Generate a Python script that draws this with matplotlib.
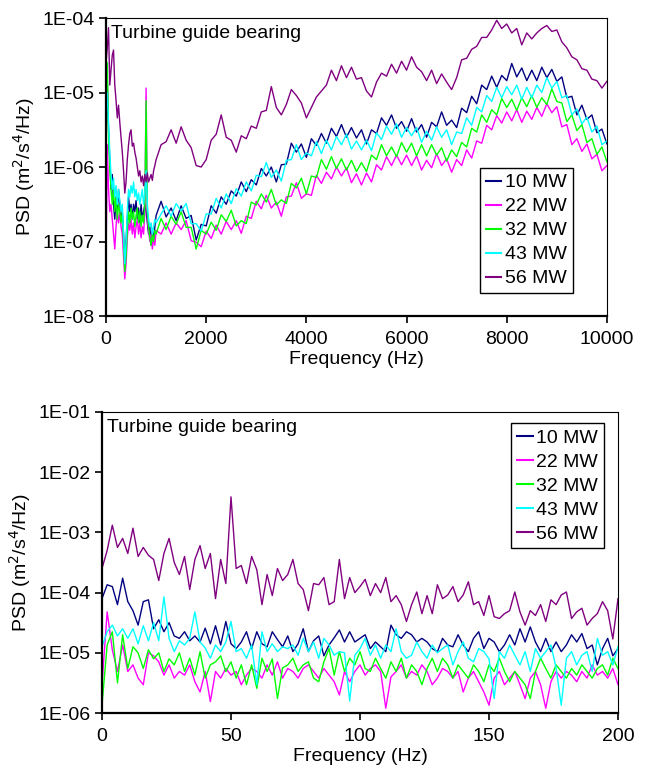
import numpy as np
import matplotlib
matplotlib.use("Agg")
import matplotlib.pyplot as plt
from matplotlib.ticker import FixedLocator, FuncFormatter, NullLocator

plt.rcParams["font.family"] = ["Liberation Sans", "DejaVu Sans"]

# ---------------- data (log10 of PSD) ----------------
labels = ["10 MW", "22 MW", "32 MW", "43 MW", "56 MW"]
colors = ["#000080", "#FF00FF", "#00FF00", "#00FFFF", "#800080"]

# top chart: 0-1000 Hz every 25 Hz, then 1100-10000 Hz every 100 Hz
freq_top = np.concatenate([np.arange(0, 1001, 25), np.arange(1100, 10001, 100)])

top_10mw = [
    -5.6, -4.8, -5.5, -5.9, -6.3, -6.1, -6.5, -6.7, -6.4, -6.6,
    -6.3, -6.5, -6.7, -6.6, -6.9, -7.3, -7.0, -6.7, -6.4, -6.6,
    -6.5, -6.7, -6.5, -6.6, -6.45, -6.7, -6.55, -6.75, -6.5, -6.7,
    -6.6, -6.5, -6.6, -6.75, -6.9, -6.8, -7.05, -6.85, -7.0, -6.8,
    -6.65,
    -6.46, -6.67, -6.55, -6.72, -6.52, -6.69, -6.65, -6.98, -6.77, -6.79,
    -6.52, -6.62, -6.4, -6.5, -6.32, -6.39, -6.2, -6.33, -6.17, -6.24,
    -6.02, -6.12, -6.0, -6.2, -5.97, -5.96, -5.68, -5.8, -5.69, -5.87,
    -5.62, -5.71, -5.55, -5.68, -5.48, -5.59, -5.43, -5.6, -5.47, -5.61,
    -5.5, -5.69, -5.5, -5.55, -5.34, -5.44, -5.3, -5.48, -5.39, -5.52,
    -5.35, -5.53, -5.43, -5.6, -5.4, -5.46, -5.26, -5.44, -5.37, -5.47,
    -5.21, -5.27, -5.05, -5.15, -4.9, -4.96, -4.78, -4.93, -4.77, -4.84,
    -4.61, -4.79, -4.67, -4.84, -4.7, -4.84, -4.66, -4.8, -4.69, -4.85,
    -4.79, -5.07, -5.05, -5.3, -5.17, -5.36, -5.3, -5.54, -5.49, -5.69,
]
top_22mw = [
    -7.3, -5.7, -6.3, -6.6, -6.5, -6.7, -6.9, -7.1, -6.8, -6.6,
    -6.75, -6.6, -6.8, -6.9, -7.2, -7.5, -7.3, -6.95, -6.75, -6.85,
    -6.7, -6.9, -6.75, -6.95, -6.8, -6.7, -6.9, -6.75, -6.95, -6.8,
    -6.9, -6.6, -4.94, -6.7, -6.85, -7.0, -6.9, -7.1, -6.95, -7.05,
    -6.85,
    -6.9, -6.75, -6.9, -6.75, -6.84, -6.72, -6.99, -7.01, -7.07, -6.86,
    -6.96, -6.78, -6.9, -6.73, -6.84, -6.72, -6.89, -6.66, -6.69, -6.46,
    -6.56, -6.38, -6.55, -6.47, -6.66, -6.4, -6.39, -6.21, -6.42, -6.36,
    -6.38, -6.11, -6.22, -6.07, -6.16, -6.0, -6.12, -6.01, -6.21, -6.09,
    -6.24, -6.08, -6.2, -5.97, -6.04, -5.86, -5.98, -5.84, -5.97, -5.84,
    -5.98, -5.85, -6.04, -5.91, -6.01, -5.82, -5.98, -5.89, -6.07, -5.9,
    -5.98, -5.77, -5.88, -5.65, -5.68, -5.44, -5.5, -5.31, -5.41, -5.26,
    -5.38, -5.23, -5.4, -5.25, -5.36, -5.2, -5.32, -5.15, -5.27, -5.19,
    -5.46, -5.43, -5.7, -5.62, -5.79, -5.69, -5.89, -5.83, -6.05, -5.98,
]
top_32mw = [
    -5.0, -4.6, -5.6, -6.0, -6.3, -6.5, -6.3, -6.6, -6.4, -6.7,
    -6.5, -6.6, -6.75, -6.6, -7.0, -7.4, -7.2, -6.85, -6.6, -6.75,
    -6.55, -6.7, -6.6, -6.8, -6.65, -6.55, -6.75, -6.6, -6.8, -6.65,
    -6.75, -6.5, -5.11, -6.6, -6.8, -6.95, -7.05, -6.9, -7.0, -6.85,
    -6.9,
    -6.69, -6.84, -6.66, -6.77, -6.6, -6.81, -6.81, -7.1, -6.85, -6.9,
    -6.74, -6.85, -6.64, -6.73, -6.58, -6.79, -6.72, -6.76, -6.47, -6.51,
    -6.36, -6.47, -6.3, -6.51, -6.44, -6.49, -6.22, -6.28, -6.15, -6.36,
    -6.12, -6.14, -5.9, -6.03, -5.86, -6.02, -5.89, -6.04, -5.91, -6.06,
    -5.94, -6.06, -5.84, -5.9, -5.7, -5.85, -5.73, -5.86, -5.67, -5.8,
    -5.68, -5.85, -5.7, -5.85, -5.7, -5.84, -5.74, -5.92, -5.77, -5.86,
    -5.67, -5.73, -5.48, -5.53, -5.3, -5.4, -5.23, -5.3, -5.08, -5.2,
    -5.09, -5.24, -5.07, -5.19, -5.04, -5.2, -5.07, -5.16, -4.95, -5.12,
    -5.14, -5.39, -5.3, -5.51, -5.43, -5.67, -5.62, -5.83, -5.73, -5.93,
]
top_43mw = [
    -5.3, -5.0, -5.4, -5.8, -6.1, -6.3, -6.15, -6.4, -6.25, -6.5,
    -6.3, -6.45, -6.6, -6.5, -6.9, -7.3, -7.0, -6.6, -6.3, -6.4,
    -6.25, -6.35, -6.2, -6.4, -6.3, -6.45, -6.35, -6.5, -6.4, -6.3,
    -6.5, -6.35, -6.05, -6.5, -6.7, -6.8, -6.75, -6.9, -6.8, -6.7,
    -6.75,
    -6.63, -6.52, -6.66, -6.49, -6.59, -6.49, -6.76, -6.76, -6.86, -6.63,
    -6.63, -6.42, -6.55, -6.36, -6.49, -6.29, -6.39, -6.2, -6.32, -6.11,
    -6.13, -5.94, -6.14, -6.04, -6.19, -5.91, -5.9, -5.7, -5.9, -5.81,
    -5.85, -5.66, -5.82, -5.64, -5.77, -5.59, -5.7, -5.56, -5.76, -5.65,
    -5.77, -5.64, -5.78, -5.54, -5.63, -5.45, -5.56, -5.42, -5.6, -5.47,
    -5.58, -5.47, -5.67, -5.52, -5.64, -5.46, -5.6, -5.5, -5.7, -5.53,
    -5.55, -5.34, -5.44, -5.2, -5.26, -5.04, -5.12, -4.93, -5.07, -4.92,
    -5.03, -4.9, -5.09, -4.93, -5.07, -4.9, -5.0, -4.8, -4.94, -4.85,
    -5.07, -5.04, -5.3, -5.22, -5.42, -5.33, -5.53, -5.45, -5.7, -5.65,
]
top_56mw = [
    -4.6, -4.4, -4.13, -4.9, -4.7, -4.5, -4.43, -4.9, -5.1, -5.34,
    -5.17, -5.4, -5.6, -5.8, -6.05, -6.35, -6.2, -5.9, -5.7, -5.55,
    -5.5, -5.72, -5.68, -5.8, -5.88, -6.0, -6.12, -6.05, -6.2, -6.12,
    -6.25, -6.1, -6.2, -6.08, -6.2, -6.15, -6.1, -6.18, -6.05, -5.98,
    -5.9,
    -5.7, -5.66, -5.5, -5.68, -5.46, -5.64, -5.74, -5.98, -6.0, -5.9,
    -5.64, -5.56, -5.3, -5.6, -5.64, -5.8, -5.58, -5.62, -5.45, -5.48,
    -5.26, -5.24, -4.92, -5.2, -5.3, -5.16, -4.96, -5.04, -5.14, -5.34,
    -5.2, -5.06, -4.98, -4.9, -4.7, -4.84, -4.64, -4.8, -4.66, -4.82,
    -4.8, -4.98, -5.06, -4.86, -4.74, -4.78, -4.62, -4.74, -4.58, -4.7,
    -4.52, -4.66, -4.72, -4.84, -4.7, -4.88, -4.75, -4.86, -4.96, -4.8,
    -4.56, -4.54, -4.42, -4.38, -4.26, -4.26, -4.16, -4.03, -4.14, -4.08,
    -4.2, -4.14, -4.36, -4.2, -4.28, -4.2, -4.14, -4.1, -4.18, -4.16,
    -4.32, -4.4, -4.52, -4.56, -4.68, -4.7, -4.82, -4.84, -4.94, -4.85,
]

# bottom chart: 0-200 Hz every 2 Hz
freq_low = np.arange(0, 201, 2)

low_10mw = [
    -4.1, -3.87, -3.9, -4.2, -3.76, -4.15, -4.3, -4.54, -4.15, -4.12,
    -4.6, -4.45, -4.65, -4.5, -4.72, -4.76, -4.65, -4.8, -4.72, -4.82,
    -4.59, -4.85, -4.55, -4.87, -4.48, -4.85, -4.93, -4.82, -4.65, -4.93,
    -4.65, -4.85, -4.9, -4.65, -4.78, -4.9, -4.72, -4.98, -4.85, -4.6,
    -4.98, -4.8, -4.72, -5.05, -4.87, -4.75, -4.62, -4.82, -4.65, -4.82,
    -4.76, -4.7, -4.93, -4.82, -4.9, -4.98, -4.54, -4.7, -4.76, -4.65,
    -4.7, -4.82, -4.76, -4.82, -4.93, -4.98, -4.76, -4.87, -4.9, -4.7,
    -4.87, -4.98, -4.76, -4.65, -4.93, -4.76, -4.82, -4.98, -4.87, -4.7,
    -4.87, -4.6, -4.82, -4.57, -4.82, -4.98, -4.76, -4.98, -4.82, -4.98,
    -4.87, -4.7, -4.82, -4.68, -4.93, -4.87, -5.2, -4.93, -4.76, -5.05,
    -4.93,
]
low_22mw = [
    -5.53, -4.32, -4.95, -5.31, -4.87, -5.31, -5.2, -5.42, -5.53, -5.0,
    -5.05, -5.15, -5.37, -5.2, -5.42, -5.31, -5.37, -5.2, -5.48, -5.65,
    -5.31, -5.81, -5.31, -5.42, -5.26, -5.37, -5.31, -5.53, -5.37, -5.26,
    -5.31, -5.42, -5.2, -5.37, -5.15, -5.42, -5.26, -5.31, -5.42, -5.26,
    -5.2, -5.31, -5.42, -5.26, -5.37, -5.48, -5.7, -5.31, -5.48, -5.31,
    -5.2, -5.37, -5.26, -5.2, -5.31, -5.92, -5.4, -5.31, -5.2, -5.42,
    -5.31, -5.37, -5.2, -5.31, -5.53, -5.42, -5.26, -5.31, -5.42, -5.31,
    -5.65, -5.42, -5.31, -5.48, -5.65, -5.87, -5.42, -5.31, -5.53, -5.42,
    -5.31, -5.53, -5.76, -5.42, -5.31, -5.53, -5.92, -5.48, -5.31, -5.42,
    -5.31, -5.37, -5.48, -5.31, -5.42, -5.2, -5.37, -5.31, -5.42, -5.26,
    -5.53,
]
low_32mw = [
    -5.87, -4.87, -4.65, -5.5, -4.7, -5.26, -4.9, -5.0, -5.26, -4.95,
    -5.1, -5.0, -5.31, -5.1, -5.2, -5.0, -5.31, -5.09, -5.37, -4.98,
    -5.42, -5.2, -5.15, -5.05, -5.31, -5.15, -5.42, -5.2, -5.53, -5.2,
    -5.59, -5.09, -5.31, -5.1, -5.76, -5.25, -5.2, -5.09, -5.31, -5.2,
    -5.15, -5.42, -5.48, -5.15, -4.93, -5.37, -4.98, -5.31, -5.09, -5.2,
    -4.98, -5.26, -5.31, -5.09, -5.26, -5.42, -5.15, -5.31, -5.09, -5.42,
    -5.2, -5.31, -5.53, -5.26, -5.09, -5.31, -5.09, -5.2, -5.42, -5.2,
    -5.31, -5.42, -5.2, -5.31, -5.48, -5.2, -5.31, -5.09, -5.31, -5.48,
    -5.31, -5.42, -5.53, -5.76, -5.31, -5.09, -5.26, -5.42, -5.2, -5.31,
    -5.42, -5.26, -5.37, -5.2, -5.31, -5.42, -5.26, -5.2, -5.37, -5.09,
    -5.26,
]
low_43mw = [
    -4.9, -4.65, -4.54, -4.72, -4.6, -4.76, -4.6, -4.85, -4.55, -4.8,
    -4.5, -4.8, -4.07, -4.76, -4.98, -4.8, -4.87, -4.76, -4.32, -4.82,
    -4.92, -5.09, -4.87, -4.98, -4.82, -4.48, -4.98, -4.93, -5.09, -4.87,
    -5.53, -4.65, -4.98, -4.85, -4.98, -4.9, -4.93, -4.87, -5.04, -4.76,
    -4.98, -4.82, -5.09, -4.76, -4.87, -5.04, -4.98, -5.0, -5.8, -5.04,
    -4.93, -4.76, -5.04, -4.87, -5.09, -4.87, -4.98, -4.6, -4.98, -5.09,
    -5.04, -4.82, -4.98, -5.09, -4.87, -5.0, -4.93, -4.87, -5.2, -4.98,
    -4.82, -5.09, -5.15, -4.93, -4.98, -5.1, -5.76, -4.98, -5.09, -4.87,
    -5.04, -5.2, -4.98, -5.31, -4.93, -5.09, -4.98, -4.87, -5.25, -5.87,
    -5.09, -4.98, -5.2, -5.04, -4.98, -5.31, -4.76, -5.04, -4.98, -5.2,
    -4.9,
]
low_56mw = [
    -3.6, -3.3, -2.88, -3.25, -3.1, -3.35, -2.93, -3.4, -3.25, -3.38,
    -3.45, -3.8, -3.35, -3.1, -3.5, -3.7, -3.4, -3.95, -3.45, -3.22,
    -3.6, -3.35, -4.1, -3.45, -3.85, -2.41, -3.6, -3.55, -3.85, -3.4,
    -3.62, -4.2, -3.7, -4.05, -3.6, -3.8, -3.7, -3.45, -3.85, -3.95,
    -4.3, -3.85, -3.87, -3.75, -4.2, -4.15, -3.45, -4.1, -3.75, -4.0,
    -3.9, -3.78, -4.05, -3.85, -4.0, -3.75, -4.15, -4.05, -4.2, -4.48,
    -4.2, -3.99, -4.35, -4.05, -4.35, -3.87, -4.1, -4.04, -3.9, -4.15,
    -4.04, -3.82, -4.2, -4.15, -4.38, -4.05, -4.4, -4.43, -4.35, -4.3,
    -3.99, -4.32, -4.54, -4.3, -4.38, -4.2, -4.48, -4.12, -4.2, -4.04,
    -3.99, -4.43, -4.32, -4.26, -4.54, -4.43, -4.35, -4.15, -4.3, -4.77,
    -4.1,
]

top_series = [top_10mw, top_22mw, top_32mw, top_43mw, top_56mw]
low_series = [low_10mw, low_22mw, low_32mw, low_43mw, low_56mw]


def sci_label(v, pos):
    return "1E%+03d" % int(round(np.log10(v)))


def style_axes(ax, xticks, decades):
    ax.set_yscale("log")
    ax.set_xlim(xticks[0], xticks[-1])
    ax.set_ylim(10.0 ** decades[0], 10.0 ** decades[-1])
    ax.xaxis.set_major_locator(FixedLocator(xticks))
    ax.yaxis.set_major_locator(FixedLocator([10.0 ** d for d in decades]))
    ax.yaxis.set_minor_locator(NullLocator())
    ax.yaxis.set_major_formatter(FuncFormatter(sci_label))
    ax.tick_params(axis="both", direction="out", length=5, width=1.2,
                   labelsize=14)
    ax.tick_params(axis="x", pad=6)
    ax.tick_params(axis="y", pad=3)
    for side in ["left", "bottom"]:
        ax.spines[side].set_linewidth(1.6)
    for side in ["top", "right"]:
        ax.spines[side].set_linewidth(0.8)
    ax.set_xlabel("Frequency (Hz)", fontsize=14, labelpad=2)
    ax.set_ylabel("PSD (m$^2$/s$^4$/Hz)", fontsize=14, labelpad=4)
    ax.text(0.01, 0.933, "Turbine guide bearing", transform=ax.transAxes,
            fontsize=14, va="baseline", ha="left")


def add_legend(ax, anchor):
    leg = ax.legend(loc="upper left", bbox_to_anchor=anchor, fontsize=14,
                    frameon=True, fancybox=False, framealpha=1,
                    edgecolor="black", handlelength=0.8, handletextpad=0.2,
                    labelspacing=0.33, borderpad=0.3, borderaxespad=0)
    leg.get_frame().set_linewidth(1.0)
    for line in leg.get_lines():
        line.set_linewidth(1.5)


fig = plt.figure(figsize=(6.48, 7.78), dpi=100)

# ---------------- top: 0-10000 Hz ----------------
ax1 = fig.add_axes([0.1636, 0.5938, 0.773, 0.383])
for vals, lab, col in zip(top_series, labels, colors):
    ax1.plot(freq_top, 10.0 ** np.array(vals), color=col, lw=1.0, label=lab)
style_axes(ax1, [0, 2000, 4000, 6000, 8000, 10000], [-8, -7, -6, -5, -4])
add_legend(ax1, (0.746, 0.497))

# ---------------- bottom: 0-200 Hz ----------------
ax2 = fig.add_axes([0.1574, 0.0835, 0.7963, 0.387])
for vals, lab, col in zip(low_series, labels, colors):
    ax2.plot(freq_low, 10.0 ** np.array(vals), color=col, lw=1.0, label=lab)
style_axes(ax2, [0, 50, 100, 150, 200], [-6, -5, -4, -3, -2, -1])
add_legend(ax2, (0.793, 0.963))

fig.savefig("out.png", dpi=100)
